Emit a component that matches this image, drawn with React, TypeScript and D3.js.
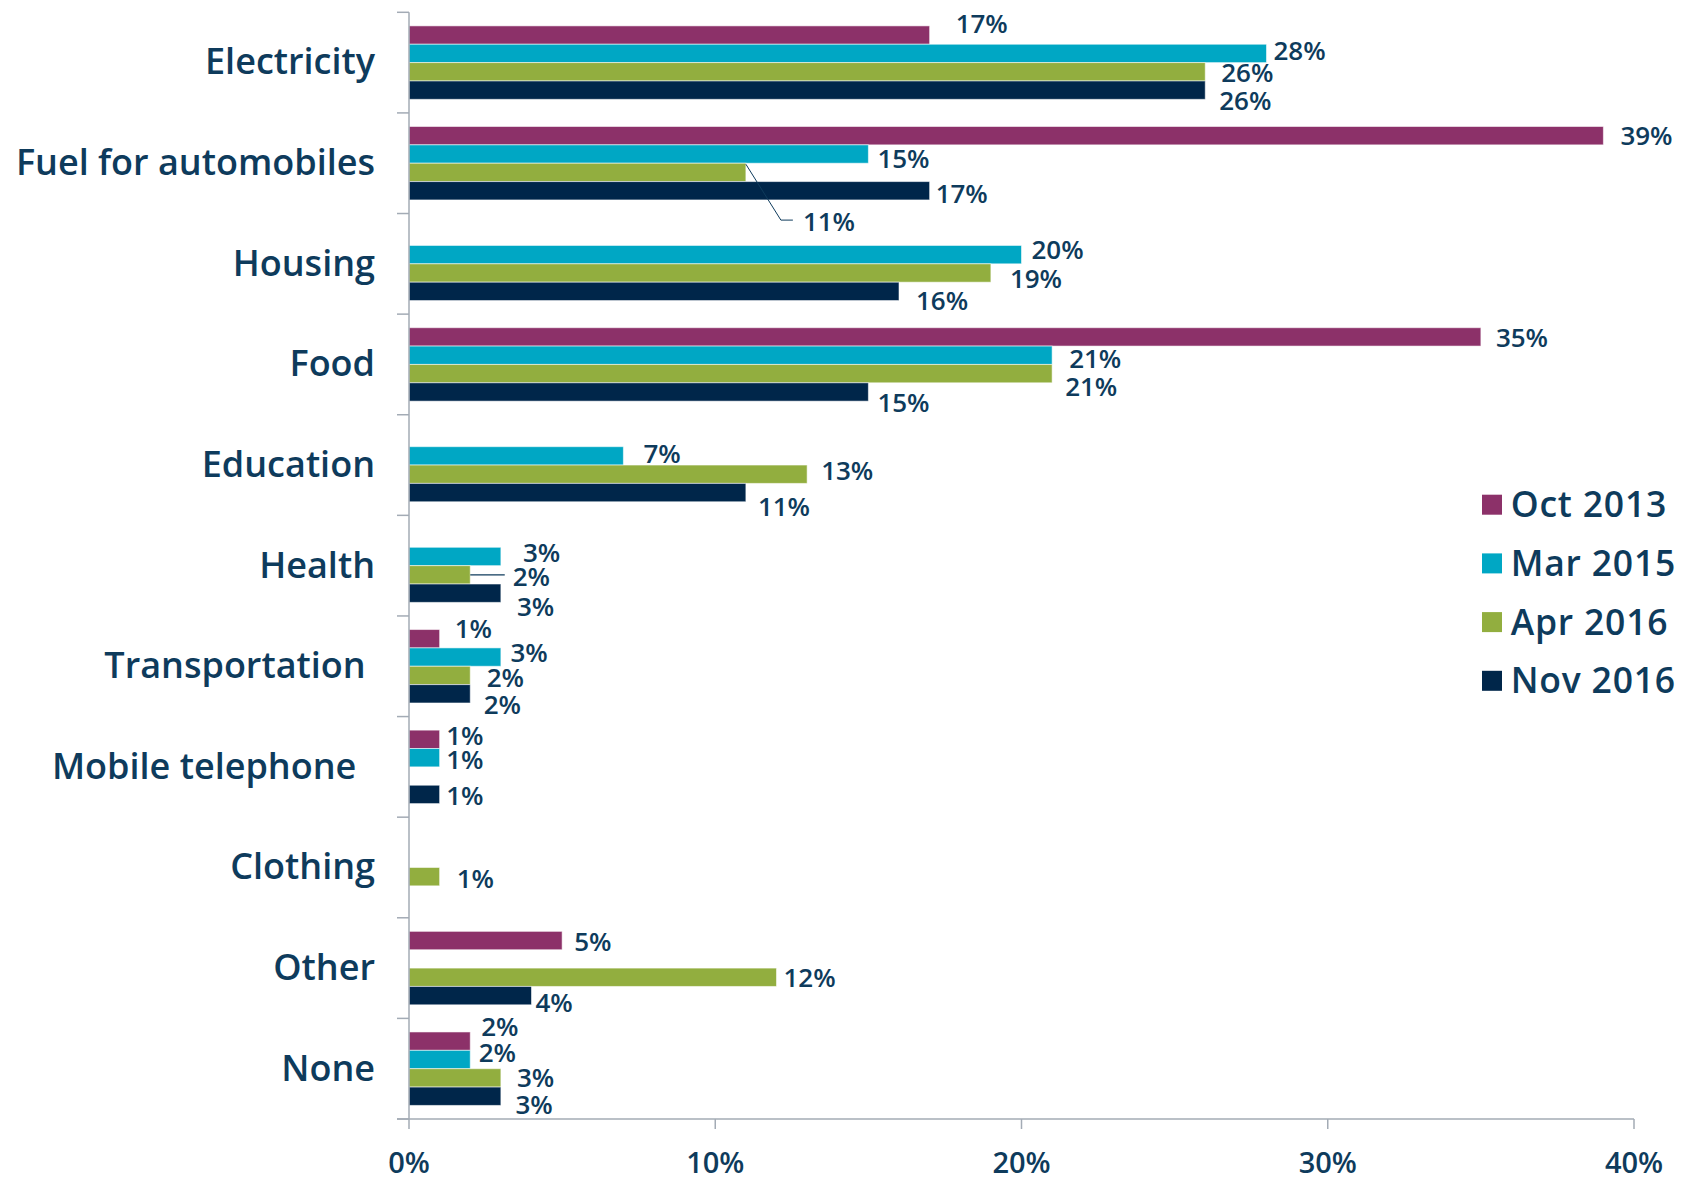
import React from "react";
import * as d3 from "d3";

const categories = [
  "Electricity",
  "Fuel for automobiles",
  "Housing",
  "Food",
  "Education",
  "Health",
  "Transportation ",
  "Mobile telephone  ",
  "Clothing",
  "Other",
  "None",
];
const seriesNames = ["Oct 2013", "Mar 2015", "Apr 2016", "Nov 2016"];
const oct2013 = [17, 39, null, 35, null, null, 1, 1, null, 5, 2];
const mar2015 = [28, 15, 20, 21, 7, 3, 3, 1, null, null, 2];
const apr2016 = [26, 11, 19, 21, 13, 2, 2, null, 1, 12, 3];
const nov2016 = [26, 17, 16, 15, 11, 3, 2, 1, null, 4, 3];
const xTicks = [0, 10, 20, 30, 40];

const seriesValues = [oct2013, mar2015, apr2016, nov2016];
const colors = ["#8C3169", "#00A7C4", "#92AE3F", "#00264A"];
const textColor = "#0E3B5C";
const axisColor = "#A3ABB5";

// manual label nudges (dx from bar end, dy from bar centre), as in the source
const labelNudge: Record<string, [number, number]> = {
  "0-0": [26, -11.7], "0-1": [7, -3], "0-2": [16, 1.3], "0-3": [14, 10],
  "1-0": [17, 0], "1-1": [9, 5], "1-2": [57, 49.4], "1-3": [6, 3],
  "2-1": [10, -5], "2-2": [19, 6], "2-3": [17, 9],
  "3-0": [15, 1], "3-1": [17, 3.5], "3-2": [13, 13], "3-3": [9, 11],
  "4-1": [20, -2.4], "4-2": [14, -4], "4-3": [12, 14],
  "5-1": [22, -4], "5-2": [42.5, 1.7], "5-3": [16, 13.7],
  "6-0": [15, -10], "6-1": [9.6, -4], "6-2": [16.5, 2], "6-3": [13.5, 11],
  "7-0": [6.5, -4], "7-1": [6.5, 1.8], "7-3": [6.5, 1],
  "8-2": [17, 1.6],
  "9-0": [12, 1], "9-2": [7, 0], "9-3": [4, 7],
  "10-0": [11, -15], "10-1": [8.5, -6.7], "10-2": [16, 0], "10-3": [14.6, 8.7],
};
const leaders = new Set(["1-2", "5-2"]);

const W = 1690;
const H = 1182;
const left = 409;
const right = 1634;
const top = 12.3;
const bottom = 1119;
const font = "'Open Sans', 'Noto Sans', sans-serif";
const labelFs = 26;
const weight = 600;

export default function App() {
  const x = d3.scaleLinear().domain([0, 40]).range([left, right]);
  const y = d3
    .scaleBand<string>()
    .domain(categories)
    .range([top, bottom])
    .paddingInner(0.27)
    .paddingOuter(0.135);
  const ySub = d3
    .scaleBand<string>()
    .domain(seriesNames)
    .range([0, y.bandwidth()]);
  const step = y.step();

  const bars: React.ReactNode[] = [];
  const labels: React.ReactNode[] = [];
  categories.forEach((cat, ci) => {
    seriesNames.forEach((s, si) => {
      const v = seriesValues[si][ci];
      if (v === null || v === undefined) return;
      const y0 = (y(cat) ?? 0) + (ySub(s) ?? 0);
      const bh = ySub.bandwidth();
      const xe = x(v);
      bars.push(
        <rect
          key={`b-${ci}-${si}`}
          x={x(0)}
          y={y0}
          width={xe - x(0)}
          height={bh}
          fill={colors[si]}
          stroke="#ffffff"
          strokeOpacity={0.55}
          strokeWidth={1}
        />
      );
      const key = `${ci}-${si}`;
      const [dx, dy] = labelNudge[key] ?? [8, 0];
      const lx = xe + dx;
      const ly = y0 + bh / 2 + dy;
      if (leaders.has(key)) {
        if (key === "1-2") {
          labels.push(
            <polyline
              key={`l-${key}`}
              points={`${xe},${y0 + 1} ${lx - 22},${ly - 1.7} ${lx - 10},${ly - 1.7}`}
              fill="none"
              stroke={textColor}
              strokeWidth={1}
            />
          );
        } else {
          labels.push(
            <line
              key={`l-${key}`}
              x1={xe}
              x2={lx - 8}
              y1={y0 + bh / 2}
              y2={y0 + bh / 2}
              stroke={textColor}
              strokeWidth={1.2}
            />
          );
        }
      }
      labels.push(
        <text
          key={`t-${key}`}
          x={lx}
          y={ly + labelFs * 0.36}
          fontSize={labelFs}
          fontWeight={weight}
          fill={textColor}
          fontFamily={font}
        >
          {`${v}%`}
        </text>
      );
    });
  });

  return (
    <div style={{ position: "absolute", left: 0, top: 0 }}>
      <svg width={W} height={H} style={{ display: "block", background: "#fff" }}>
        {bars}
        {/* y axis */}
        <line x1={left} x2={left} y1={top} y2={bottom} stroke={axisColor} strokeWidth={1.5} />
        {d3.range(categories.length + 1).map((i) => (
          <line
            key={`yt-${i}`}
            x1={left - 12}
            x2={left}
            y1={top + i * step}
            y2={top + i * step}
            stroke={axisColor}
            strokeWidth={1.5}
          />
        ))}
        {/* x axis */}
        <line x1={left - 12} x2={right} y1={bottom} y2={bottom} stroke={axisColor} strokeWidth={1.5} />
        {xTicks.map((t) => (
          <g key={`xt-${t}`}>
            <line x1={x(t)} x2={x(t)} y1={bottom} y2={bottom + 10} stroke={axisColor} strokeWidth={1.5} />
            <text
              x={x(t)}
              y={1162 + 30 * 0.36}
              textAnchor="middle"
              fontSize={29}
              fontWeight={weight}
              fill={textColor}
              fontFamily={font}
            >
              {`${t}%`}
            </text>
          </g>
        ))}
        {categories.map((c) => (
          <text
            key={`c-${c}`}
            x={375}
            y={(y(c) ?? 0) + y.bandwidth() / 2 + 36 * 0.33}
            textAnchor="end"
            fontSize={36}
            fontWeight={weight}
            fill={textColor}
            fontFamily={font}
            style={{ whiteSpace: "pre" }}
          >
            {c}
          </text>
        ))}
        {labels}
        {/* legend */}
        {seriesNames.map((s, i) => (
          <g key={`lg-${s}`} transform={`translate(1482, ${494.7 + i * 58.7})`}>
            <rect width={20} height={20} fill={colors[i]} />
            <text
              x={28.7}
              y={10 + 35 * 0.36}
              fontSize={35.5}
              fontWeight={weight}
              letterSpacing={0.8}
              fill={textColor}
              fontFamily={font}
            >
              {s}
            </text>
          </g>
        ))}
      </svg>
    </div>
  );
}
